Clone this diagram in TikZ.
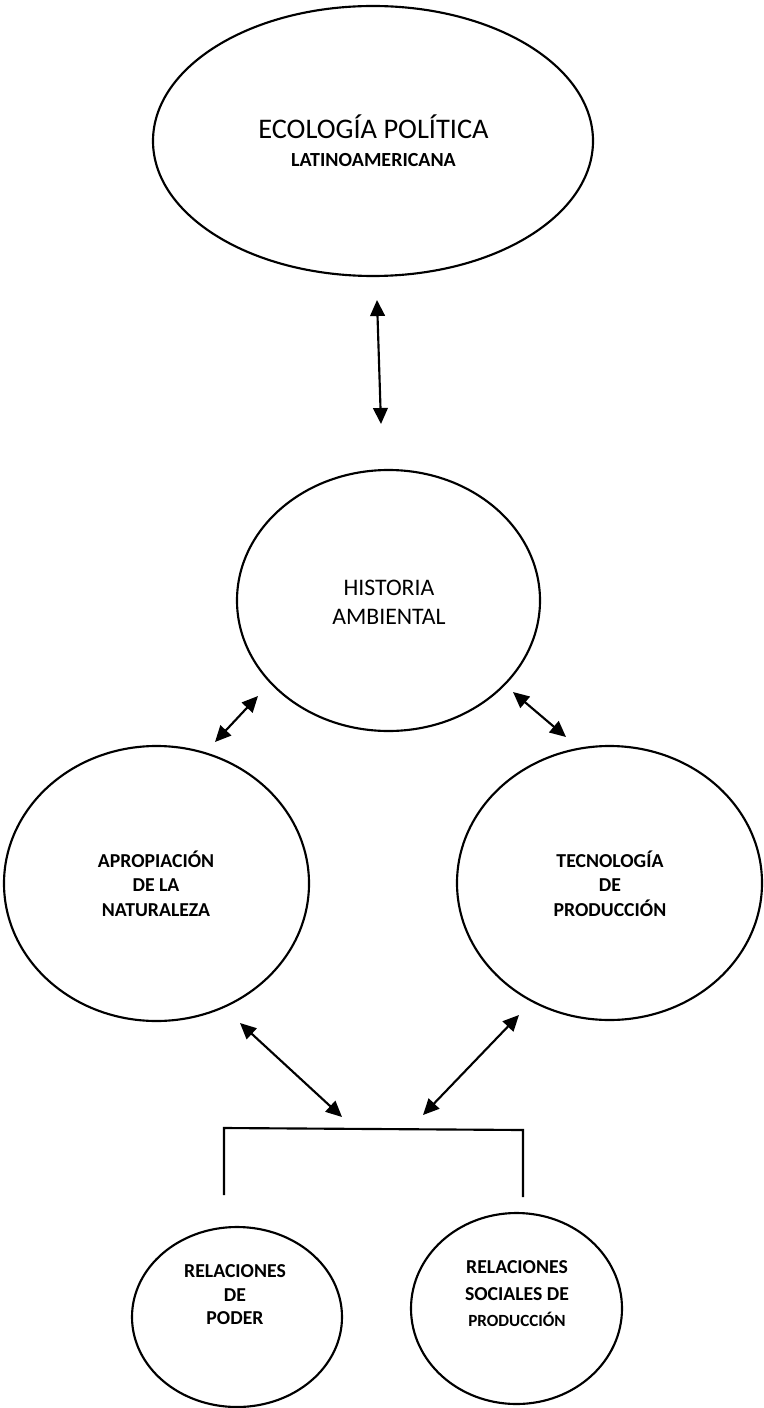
\documentclass[tikz,border=0pt]{standalone}
\usepackage{fontspec}
\setmainfont{Carlito}
\usetikzlibrary{shapes.geometric,arrows.meta}
\begin{document}
\begin{tikzpicture}[x=0.75pt,y=-0.75pt,
  oval/.style={draw=black,line width=1.6pt,ellipse,inner sep=0pt,fill=none},
  txt/.style={anchor=base,inner sep=0pt,text=black},
  dbl/.style={line width=1.6pt,{Triangle[length=12pt,width=11pt]}-{Triangle[length=12pt,width=11pt]}},
  brk/.style={line width=1.6pt,line join=miter}]
\useasboundingbox (0,0) rectangle (763,1408);
% ellipses
\node[oval,minimum width=330pt,minimum height=202.5pt] (eco) at (373,141) {};
\node[oval,minimum width=227.25pt,minimum height=195.75pt] (his) at (388.5,600.5) {};
\node[oval,minimum width=228.75pt,minimum height=206.25pt] (apr) at (156.5,883.5) {};
\node[oval,minimum width=228.75pt,minimum height=205.5pt] (tec) at (609.5,883) {};
\node[oval,minimum width=157.5pt,minimum height=135pt] (pod) at (237,1317) {};
\node[oval,minimum width=158.25pt,minimum height=143.25pt] (soc) at (516.5,1308.5) {};
% texts
\node[txt,font=\fontsize{21.3}{25}\selectfont] (t1) at (373.5,139) {ECOLOGÍA POLÍTICA};
\node[txt,font=\fontsize{15}{18}\bfseries] (t2) at (373.5,167) {LATINOAMERICANA};
\node[txt,font=\fontsize{17.8}{21}\selectfont] (t3) at (389,595) {HISTORIA};
\node[txt,font=\fontsize{17.8}{21}\selectfont] (t4) at (389,624) {AMBIENTAL};
\node[txt,font=\fontsize{14.8}{17}\bfseries] (t5) at (156,867) {APROPIACIÓN};
\node[txt,font=\fontsize{14.8}{17}\bfseries] (t6) at (156,891) {DE LA};
\node[txt,font=\fontsize{14.8}{17}\bfseries] (t7) at (156,916) {NATURALEZA};
\node[txt,font=\fontsize{14.8}{17}\bfseries] (t8) at (610,867) {TECNOLOGÍA};
\node[txt,font=\fontsize{14.8}{17}\bfseries] (t9) at (610,891) {DE};
\node[txt,font=\fontsize{14.8}{17}\bfseries] (t10) at (610,916) {PRODUCCIÓN};
\node[txt,font=\fontsize{14.8}{17}\bfseries] (t11) at (235,1277) {RELACIONES};
\node[txt,font=\fontsize{14.8}{17}\bfseries] (t12) at (235,1301) {DE};
\node[txt,font=\fontsize{14.8}{17}\bfseries] (t13) at (235,1324) {PODER};
\node[txt,font=\fontsize{14.8}{17}\bfseries] (t14) at (517,1273) {RELACIONES};
\node[txt,font=\fontsize{14.8}{17}\bfseries] (t15) at (517,1300) {SOCIALES DE};
\node[txt,font=\fontsize{12.8}{15}\bfseries] (t16) at (517,1326) {PRODUCCIÓN};
% arrow end points
\coordinate (a1s) at (377,300);  \coordinate (a1e) at (381,424);
\coordinate (a2s) at (258,696);  \coordinate (a2e) at (215,742);
\coordinate (a3s) at (513,692);  \coordinate (a3e) at (566,737);
\coordinate (a4s) at (240,1023); \coordinate (a4e) at (342,1117);
\coordinate (a5s) at (519,1015); \coordinate (a5e) at (423,1115);
\draw[dbl] (a1s) -- (a1e);
\draw[dbl] (a2s) -- (a2e);
\draw[dbl] (a3s) -- (a3e);
\draw[dbl] (a4s) -- (a4e);
\draw[dbl] (a5s) -- (a5e);
% bracket
\coordinate (b1) at (224,1195);
\coordinate (b2) at (224,1128);
\coordinate (b3) at (523,1130);
\coordinate (b4) at (523,1197);
\draw[brk] (b1) -- (b2) -- (b3) -- (b4);
\end{tikzpicture}
\end{document}
